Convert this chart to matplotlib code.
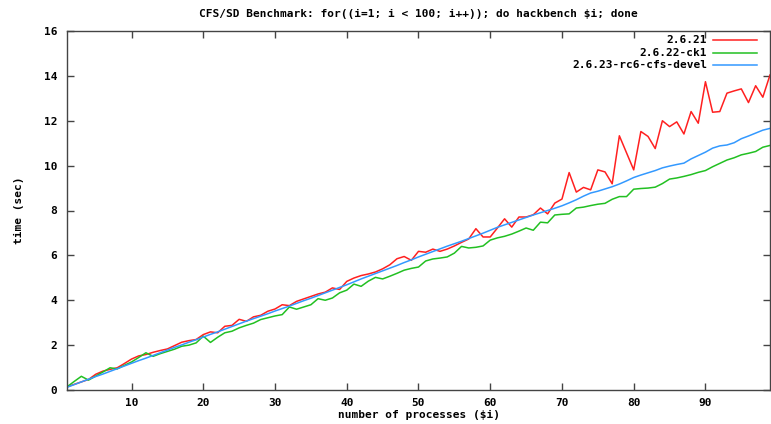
import matplotlib
matplotlib.use("Agg")
import matplotlib.pyplot as plt
from matplotlib.lines import Line2D

processes = list(range(1, 100))

kernel_2621 = [0.14, 0.25, 0.36, 0.47, 0.70, 0.84, 0.92, 0.99, 1.18, 1.38,
               1.52, 1.58, 1.68, 1.76, 1.83, 1.98, 2.13, 2.20, 2.25, 2.47,
               2.59, 2.55, 2.84, 2.88, 3.15, 3.06, 3.26, 3.33, 3.51, 3.61,
               3.80, 3.76, 3.95, 4.06, 4.17, 4.28, 4.36, 4.55, 4.48, 4.84,
               4.99, 5.10, 5.17, 5.26, 5.40, 5.58, 5.85, 5.95, 5.78, 6.18,
               6.14, 6.28, 6.18, 6.28, 6.42, 6.58, 6.73, 7.19, 6.82, 6.82,
               7.22, 7.63, 7.26, 7.71, 7.71, 7.81, 8.11, 7.85, 8.33, 8.51,
               9.69, 8.82, 9.03, 8.92, 9.81, 9.72, 9.19, 11.33, 10.57, 9.81,
               11.52, 11.30, 10.76, 12.00, 11.74, 11.95, 11.41, 12.41, 11.89, 13.74,
               12.38, 12.41, 13.23, 13.33, 13.42, 12.81, 13.56, 13.05, 14.04]

kernel_2622_ck1 = [0.14, 0.38, 0.61, 0.44, 0.62, 0.80, 0.99, 0.94, 1.10, 1.25,
                   1.45, 1.66, 1.50, 1.62, 1.72, 1.82, 1.95, 2.00, 2.10, 2.40,
                   2.12, 2.35, 2.55, 2.62, 2.77, 2.88, 2.98, 3.14, 3.22, 3.30,
                   3.36, 3.70, 3.60, 3.70, 3.80, 4.07, 4.00, 4.10, 4.33, 4.45,
                   4.72, 4.62, 4.85, 5.02, 4.95, 5.07, 5.20, 5.34, 5.42, 5.48,
                   5.75, 5.84, 5.88, 5.93, 6.10, 6.40, 6.33, 6.36, 6.42, 6.68,
                   6.78, 6.85, 6.95, 7.08, 7.22, 7.12, 7.48, 7.45, 7.80, 7.83,
                   7.85, 8.11, 8.15, 8.22, 8.28, 8.32, 8.50, 8.62, 8.62, 8.95,
                   8.98, 9.00, 9.04, 9.20, 9.40, 9.45, 9.52, 9.60, 9.70, 9.78,
                   9.95, 10.10, 10.25, 10.35, 10.48, 10.55, 10.63, 10.82, 10.90]

kernel_2623_cfs = [0.12, 0.24, 0.36, 0.48, 0.60, 0.71, 0.83, 0.95, 1.07, 1.19,
                   1.31, 1.42, 1.54, 1.66, 1.78, 1.90, 2.01, 2.13, 2.24, 2.36,
                   2.48, 2.59, 2.71, 2.83, 2.95, 3.07, 3.18, 3.29, 3.40, 3.52,
                   3.63, 3.74, 3.86, 3.98, 4.09, 4.21, 4.33, 4.45, 4.57, 4.69,
                   4.82, 4.95, 5.07, 5.19, 5.31, 5.43, 5.55, 5.68, 5.80, 5.93,
                   6.05, 6.17, 6.29, 6.41, 6.52, 6.63, 6.75, 6.87, 6.99, 7.12,
                   7.25, 7.36, 7.47, 7.58, 7.69, 7.80, 7.90, 8.00, 8.10, 8.21,
                   8.34, 8.48, 8.64, 8.78, 8.86, 8.96, 9.06, 9.18, 9.32, 9.47,
                   9.58, 9.68, 9.78, 9.90, 9.98, 10.05, 10.11, 10.30, 10.45, 10.60,
                   10.78, 10.88, 10.92, 11.02, 11.20, 11.32, 11.45, 11.58, 11.66]

series_names = ["2.6.21", "2.6.22-ck1", "2.6.23-rc6-cfs-devel"]
series_colors = ["#ff2020", "#22c022", "#3399ff"]
x_ticks = [10, 20, 30, 40, 50, 60, 70, 80, 90]
y_ticks = [0, 2, 4, 6, 8, 10, 12, 14, 16]

W, H = 771, 424
fig = plt.figure(figsize=(W / 100, H / 100), dpi=100)
L, R, T, B = 67, 770, 31, 390
ax = fig.add_axes([L / W, 1 - B / H, (R - L) / W, (B - T) / H])

fnt = dict(family="DejaVu Sans Mono", weight="bold", size=8)

for vals, name, col in zip([kernel_2621, kernel_2622_ck1, kernel_2623_cfs],
                           series_names, series_colors):
    ax.plot(processes, vals, color=col, lw=1.1, label=name)

ax.set_xlim(1, 99)
ax.set_ylim(0, 16)
ax.set_xticks(x_ticks)
ax.set_yticks(y_ticks)
ax.tick_params(direction="in", length=5, width=1, color="#444444",
               top=True, right=True)
ax.tick_params(axis="x", pad=6)
ax.tick_params(axis="y", pad=7)
for lab in ax.get_xticklabels() + ax.get_yticklabels():
    lab.set_fontfamily(fnt["family"])
    lab.set_fontweight("bold")
    lab.set_fontsize(8)
for s in ax.spines.values():
    s.set_color("#444444")
    s.set_linewidth(1)

ax.set_title("CFS/SD Benchmark: for((i=1; i < 100; i++)); do hackbench $i; done",
             pad=10, **fnt)
ax.set_xlabel("number of processes ($i)", labelpad=1, **fnt)
ax.set_ylabel("time (sec)", labelpad=14, **fnt)

# legend gnuplot style: right-aligned text, then line sample
leg_y = [40, 53, 65]
for name, col, yy in zip(series_names, series_colors, leg_y):
    fig.text(707 / W, 1 - yy / H, name, ha="right", va="center", **fnt)
    fig.add_artist(Line2D([713 / W, 757 / W], [1 - yy / H, 1 - yy / H],
                          color=col, lw=1.1, transform=fig.transFigure))

fig.savefig("out.png", dpi=100)
